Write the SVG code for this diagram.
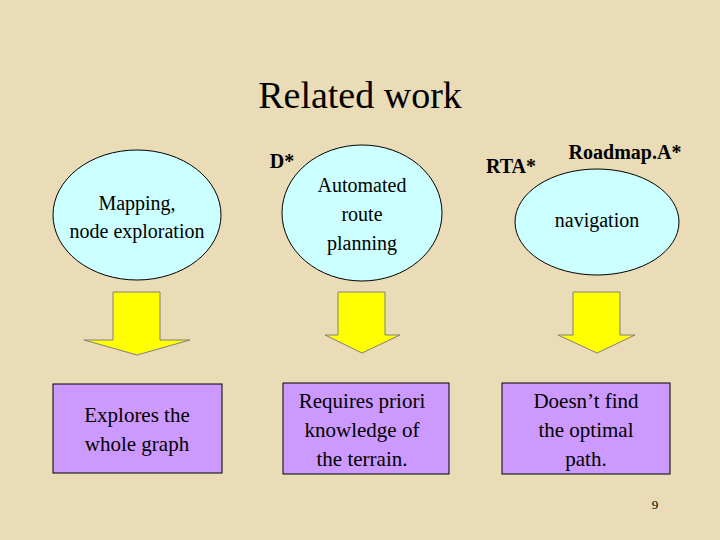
<svg xmlns="http://www.w3.org/2000/svg" width="720" height="540" viewBox="0 0 720 540" font-family="'Liberation Serif', 'DejaVu Serif', serif">
<style>
text{fill:#000;text-anchor:middle}
.el{fill:#ccffff;stroke:#000;stroke-width:1}
.bx{fill:#cc99ff;stroke:#000;stroke-width:1}
.ar{fill:#ffff00;stroke:#808080;stroke-width:1}
.b{font-weight:bold;font-size:20px}
.t{font-size:20px}
.k{font-size:21px}
</style>
<rect width="720" height="540" fill="#e9dcb6"/>
<text x="360" y="108" font-size="38">Related work</text>
<text class="b" x="282" y="168">D*</text>
<text class="b" x="511" y="173">RTA*</text>
<text class="b" x="625" y="159">Roadmap.A*</text>
<g id="n1"><ellipse class="el" cx="137" cy="215" rx="84" ry="65"/><text class="t" x="137" y="210">Mapping,</text><text class="t" x="137" y="238">node exploration</text></g>
<g id="n2"><ellipse class="el" cx="362" cy="213" rx="80" ry="68"/><text class="t" x="362" y="192">Automated</text><text class="t" x="362" y="221">route</text><text class="t" x="362" y="250">planning</text></g>
<g id="n3"><ellipse class="el" cx="597" cy="222" rx="82" ry="53"/><text class="t" x="597" y="227">navigation</text></g>
<g id="connectors">
<polygon class="ar" points="113,292 160,292 160,340 190,340 137,355 84,340 113,340"/>
<polygon class="ar" points="338,292 385,292 385,335 400,335 362,353 325,335 338,335"/>
<polygon class="ar" points="573,292 620,292 620,335 635,335 597,353 558,335 573,335"/>
</g>
<g id="b1"><rect class="bx" x="53" y="384" width="169" height="89"/><text class="k" x="137" y="422">Explores the</text><text class="k" x="137" y="451">whole graph</text></g>
<g id="b2"><rect class="bx" x="283" y="383" width="166" height="91"/><text class="k" x="362" y="408">Requires priori</text><text class="k" x="362" y="437">knowledge of</text><text class="k" x="362" y="466">the terrain.</text></g>
<g id="b3"><rect class="bx" x="502" y="383" width="168" height="91"/><text class="k" x="586" y="408">Doesn’t find</text><text class="k" x="586" y="437">the optimal</text><text class="k" x="586" y="466">path.</text></g>
<text x="655" y="509" font-size="13">9</text>
</svg>
